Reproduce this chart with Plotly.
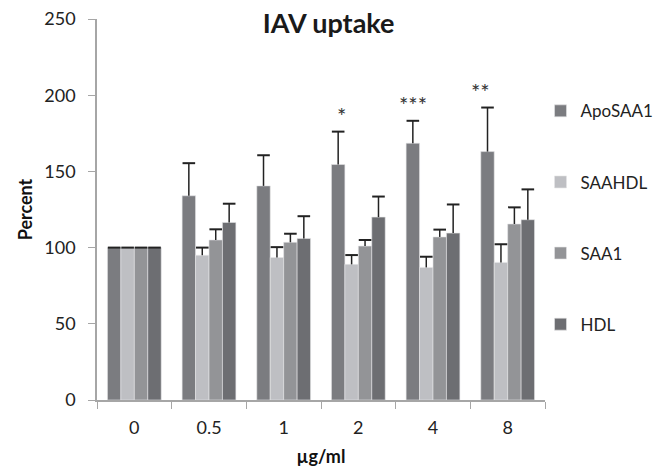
import plotly.graph_objects as go

categories = ["0", "0.5", "1", "2", "4", "8"]
series_names = ["ApoSAA1", "SAAHDL", "SAA1", "HDL"]
apo_saa1 = [100, 134, 140.5, 154.5, 168.5, 163]
saahdl = [100, 95, 93.5, 89, 87, 90.3]
saa1 = [100, 105, 103.5, 101, 107, 115.5]
hdl = [100, 116.5, 106, 120, 109.5, 118.3]
apo_saa1_err = [0, 21.4, 20.1, 21.6, 14.7, 28.9]
saahdl_err = [0, 5, 6.8, 6.1, 7, 11.9]
saa1_err = [0, 7, 5.6, 4, 4.8, 10.9]
hdl_err = [0, 12.3, 14.6, 13.5, 18.8, 19.9]
stars = ["", "", "", "*", "***", "**"]
star_shift = [0, 0, 0, -17, -20, -27]

values = [apo_saa1, saahdl, saa1, hdl]
errors = [apo_saa1_err, saahdl_err, saa1_err, hdl_err]
colors = ["#7b7c80", "#bebfc3", "#939497", "#6d6e72"]

FONT = "Lato, Carlito, Calibri, sans-serif"
ERRC = "#222222"

fig = go.Figure()
for i, (name, vals, errs, col) in enumerate(zip(series_names, values, errors, colors)):
    fig.add_trace(go.Bar(
        name=name, x=categories, y=vals,
        marker=dict(color=col, line=dict(color="#e6e6e8", width=0.6)),
        error_y=dict(type="data", symmetric=False, array=errs,
                     arrayminus=[0] * len(errs), color=ERRC,
                     thickness=1.5, width=0),
        legendgroup=name, offsetgroup=str(i), alignmentgroup="a",
    ))
# error-bar caps (top only)
for i, (name, vals, errs) in enumerate(zip(series_names, values, errors)):
    fig.add_trace(go.Scatter(
        x=categories, y=[v + e for v, e in zip(vals, errs)],
        mode="markers", showlegend=False, hoverinfo="skip",
        marker=dict(symbol="line-ew-open", size=9, color=ERRC,
                    line=dict(color=ERRC, width=2)),
        legendgroup=name, offsetgroup=str(i), alignmentgroup="a",
    ))

for idx, (s, v, e, sh) in enumerate(zip(stars, apo_saa1, apo_saa1_err, star_shift)):
    if s:
        fig.add_annotation(x=idx, y=v + e, text=s, showarrow=False,
                           xshift=sh, yanchor="bottom", yshift=1,
                           font=dict(family=FONT, size=22, color="#333333"))

fig.update_layout(
    width=665, height=469,
    margin=dict(l=97, r=120, t=19, b=69, autoexpand=False),
    paper_bgcolor="white", plot_bgcolor="white",
    barmode="group", bargap=0.28, bargroupgap=0,
    scattermode="group", scattergap=0.28,
    font=dict(family=FONT, color="#222222"),
    title=dict(text="<b>IAV uptake</b>", x=0.517, xref="paper", xanchor="center",
               y=1 - 24 / 469, yanchor="middle",
               font=dict(family=FONT, size=27, color="#1a1a1a")),
    legend=dict(x=0.99, xanchor="left", y=0.805, yanchor="top",
                tracegroupgap=46, font=dict(family=FONT, size=17, color="#222222"),
                itemwidth=30, traceorder="grouped", bgcolor="rgba(0,0,0,0)"),
    showlegend=True,
)
fig.update_xaxes(
    type="category", range=[-0.5, len(categories) - 0.5],
    showline=True, linecolor="#a6a6a6", linewidth=1.5,
    ticks="outside", tickson="boundaries", ticklen=7, tickcolor="#a6a6a6",
    ticklabelstandoff=11,
    tickfont=dict(family=FONT, size=18, color="#222222"),
    title=dict(text="<b>µg/ml</b>", font=dict(family=FONT, size=18, color="#111111"), standoff=13),
    showgrid=False, zeroline=False,
)
fig.update_yaxes(
    range=[0, 250], dtick=50, showline=True, linecolor="#a6a6a6", linewidth=1.5,
    ticks="outside", ticklen=7, tickcolor="#a6a6a6",
    ticklabelstandoff=9,
    tickfont=dict(family=FONT, size=18, color="#222222"),
    title=dict(text="<b>Percent</b>", font=dict(family=FONT, size=18, color="#111111"), standoff=7),
    showgrid=False, zeroline=False,
)

fig.write_html("out.html")
